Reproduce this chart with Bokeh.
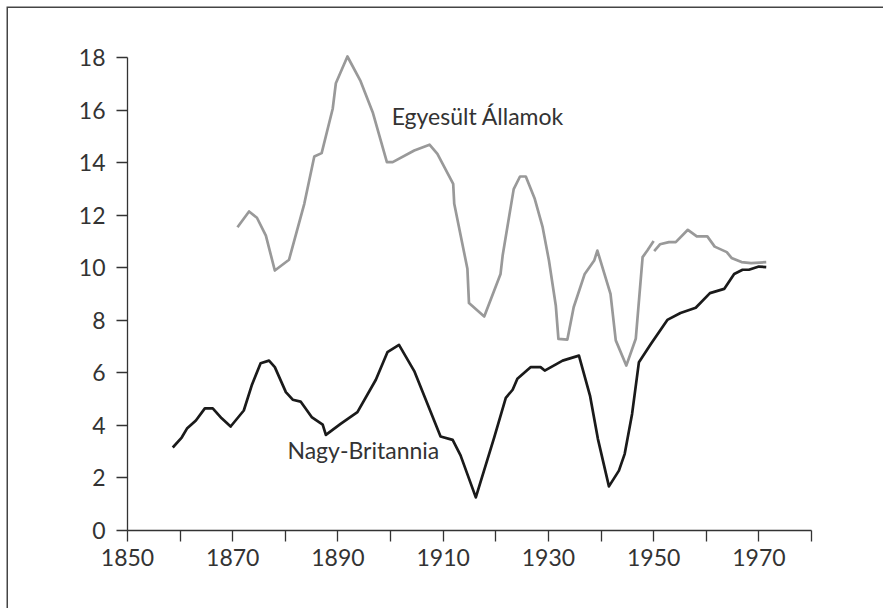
from bokeh.plotting import figure
from bokeh.models import Range1d, FixedTicker, ColumnDataSource
from bokeh.core.properties import value
from bokeh.embed import file_html
from bokeh.resources import INLINE

# Nagy-Britannia (UK) series
uk_years = [1858.6, 1860.3, 1861.3, 1863.0, 1864.7, 1866.2, 1867.9, 1869.6, 1872.1, 1873.6,
            1875.3, 1876.9, 1878.0, 1880.1, 1881.4, 1882.9, 1885.0, 1887.1, 1887.7, 1890.5,
            1893.7, 1897.2, 1899.4, 1901.6, 1904.5, 1909.5, 1911.8, 1913.3, 1916.2, 1919.7,
            1921.9, 1923.2, 1924.1, 1926.6, 1928.5, 1929.3, 1932.7, 1935.8, 1937.9, 1939.4,
            1941.5, 1943.4, 1944.5, 1945.9, 1947.2, 1949.5, 1952.6, 1955.1, 1958.0, 1960.7,
            1963.4, 1965.3, 1966.9, 1968.1, 1970.0, 1971.4]
uk_values = [3.16, 3.54, 3.88, 4.19, 4.65, 4.65, 4.27, 3.96, 4.57, 5.52,
             6.37, 6.47, 6.22, 5.27, 4.98, 4.91, 4.32, 4.03, 3.64, 4.06,
             4.51, 5.74, 6.79, 7.07, 6.07, 3.58, 3.45, 2.86, 1.26, 3.55,
             5.05, 5.36, 5.78, 6.22, 6.22, 6.09, 6.47, 6.66, 5.14, 3.49,
             1.68, 2.28, 2.92, 4.44, 6.41, 7.11, 8.02, 8.28, 8.48, 9.04,
             9.20, 9.77, 9.93, 9.93, 10.05, 10.03]

# Egyesült Államok (US) series, first part (to 1950)
us_years_a = [1870.9, 1873.1, 1874.6, 1876.3, 1878.0, 1880.7, 1883.6, 1885.5, 1886.9, 1889.0,
              1889.6, 1891.8, 1894.3, 1896.6, 1899.3, 1900.4, 1904.5, 1907.4, 1908.9, 1911.9,
              1912.1, 1914.6, 1914.9, 1917.8, 1920.9, 1921.3, 1923.4, 1924.6, 1925.7, 1927.4,
              1928.9, 1930.1, 1931.4, 1931.9, 1933.6, 1934.8, 1936.9, 1938.7, 1939.3, 1941.8,
              1942.8, 1944.8, 1946.6, 1947.9, 1948.8, 1950.0]
us_values_a = [11.55, 12.15, 11.91, 11.23, 9.90, 10.31, 12.44, 14.24, 14.37, 16.06,
               17.03, 18.05, 17.11, 15.93, 14.03, 14.03, 14.47, 14.69, 14.34, 13.20,
               12.44, 9.97, 8.66, 8.15, 9.77, 10.47, 13.00, 13.48, 13.48, 12.63,
               11.55, 10.28, 8.57, 7.30, 7.27, 8.50, 9.77, 10.28, 10.66, 9.01,
               7.24, 6.28, 7.30, 10.41, 10.66, 11.02]

# Egyesült Államok (US) series, second part (from 1950)
us_years_b = [1950.1, 1951.2, 1952.9, 1954.2, 1956.5, 1958.2, 1960.2, 1961.6, 1963.9, 1964.8,
              1966.7, 1968.5, 1971.4]
us_values_b = [10.64, 10.90, 10.98, 10.98, 11.45, 11.20, 11.20, 10.81, 10.60, 10.38,
               10.22, 10.18, 10.22]

x_ticks = [1850, 1860, 1870, 1880, 1890, 1900, 1910, 1920, 1930, 1940, 1950, 1960, 1970, 1980]
x_tick_labels = {1850: "1850", 1860: "", 1870: "1870", 1880: "", 1890: "1890", 1900: "",
                 1910: "1910", 1920: "", 1930: "1930", 1940: "", 1950: "1950", 1960: "",
                 1970: "1970", 1980: ""}
y_ticks = [0, 2, 4, 6, 8, 10, 12, 14, 16, 18]

label_names = ["Egyesült Államok", "Nagy-Britannia"]
label_years = [1900.2, 1880.4]
label_levels = [15.80, 3.08]

FONT = "Lato"
TEXT_COLOR = "#333333"
AXIS_COLOR = "#333333"

p = figure(width=883, height=608, output_backend="svg", toolbar_location=None,
           x_range=Range1d(1850, 1980), y_range=Range1d(0, 19.04),
           min_border_left=127, min_border_right=72, min_border_top=30, min_border_bottom=78,
           background_fill_color=None, border_fill_color=None)
# page frame (top and left edges only), drawn behind the transparent canvas
p.styles = {"background-color": "white",
            "box-shadow": "inset 6.5px 6.5px 0 0 #ffffff, inset 8px 8px 0 0 #444444"}
p.outline_line_color = None
p.xgrid.visible = False
p.ygrid.visible = False

p.line(us_years_a, us_values_a, line_color="#999999", line_width=2.7, line_join="round")
p.line(us_years_b, us_values_b, line_color="#999999", line_width=2.7, line_join="round")
p.line(uk_years, uk_values, line_color="#1a1a1a", line_width=2.7, line_join="round")

src = ColumnDataSource(dict(x=label_years, y=label_levels, t=label_names))
p.text(x="x", y="y", text="t", source=src, text_font=value(FONT), text_font_size="23px",
       text_color=TEXT_COLOR, text_align="left", text_baseline="alphabetic")

for ax in (p.xaxis[0], p.yaxis[0]):
    ax.axis_line_color = AXIS_COLOR
    ax.axis_line_width = 1.3
    ax.major_tick_line_color = AXIS_COLOR
    ax.major_tick_line_width = 1.3
    ax.major_tick_in = 0
    ax.major_tick_out = 11
    ax.minor_tick_line_color = None
    ax.major_label_text_font = FONT
    ax.major_label_text_font_size = "23px"
    ax.major_label_text_color = TEXT_COLOR

p.xaxis.ticker = FixedTicker(ticks=x_ticks)
p.xaxis.major_label_overrides = x_tick_labels
p.xaxis.bounds = (1850, 1980)
p.xaxis.major_label_standoff = 7

p.yaxis.ticker = FixedTicker(ticks=y_ticks)
p.yaxis.bounds = (0, 18)
p.yaxis.major_label_standoff = 11

open("out.html", "w").write(file_html(p, INLINE))
